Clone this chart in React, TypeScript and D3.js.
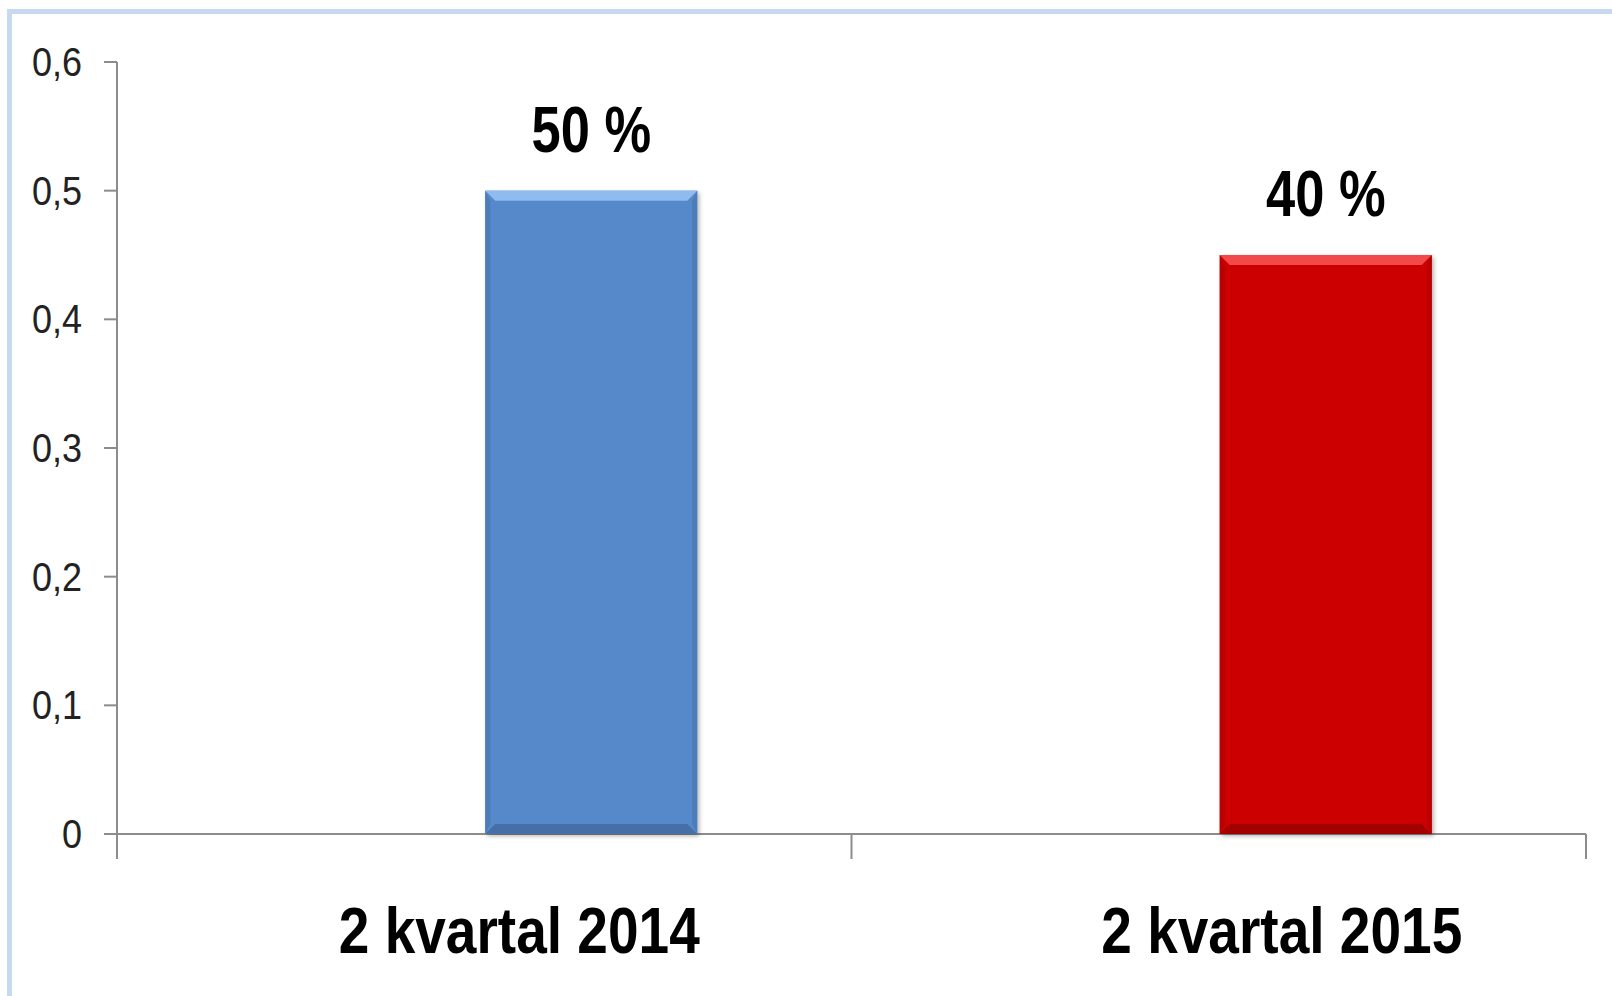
import { useRef, useEffect } from 'react'
import * as d3 from 'd3'

const categories = ['2 kvartal 2014', '2 kvartal 2015']
const values = [0.5, 0.45]
const valueLabels = ['50 %', '40 %']
const yTicks = [0, 0.1, 0.2, 0.3, 0.4, 0.5, 0.6]

const W = 1612
const H = 996
const FONT = '"Liberation Sans Narrow", "Arial Narrow", "Liberation Sans", sans-serif'

const BAR_STYLES = [
  { main: '#5689c9', light: '#8fbbee', dark: '#456fa6', edge: '#4d7cb8' },
  { main: '#cc0404', light: '#f24a4a', dark: '#a30000', edge: '#b80000' },
]
// Excel offsets: bars and labels sit right of the band centre
const barShift = 107
const labelShift = [35, 63]

export default function App() {
  const svgRef = useRef<SVGSVGElement>(null)

  useEffect(() => {
    const svg = d3.select(svgRef.current)
    svg.selectAll('*').remove()

    const pad = { l: 117, r: 26, t: 62, b: 162 }
    const x = d3.scaleBand().domain(categories).range([pad.l, W - pad.r]).padding(0)
    const y = d3.scaleLinear().domain([0, 0.6]).range([H - pad.b, pad.t])
    const bw = 212
    const bev = 10

    // narrow text: squeeze Liberation Sans horizontally
    const squeeze = (tx: number, ty: number, sx: number) => `translate(${tx},${ty}) scale(${sx},1)`

    // outer frame
    svg.append('rect')
      .attr('x', 9.5).attr('y', 11.5)
      .attr('width', W + 20).attr('height', H + 20)
      .attr('fill', '#fff')
      .attr('stroke', '#c6d9f1').attr('stroke-width', 5)

    // y axis
    svg.append('line')
      .attr('x1', pad.l).attr('x2', pad.l)
      .attr('y1', y(0.6)).attr('y2', y(0) + 25)
      .attr('stroke', '#8c8c8c').attr('stroke-width', 2)
    svg.selectAll('.ytick')
      .data(yTicks)
      .join('line')
      .attr('x1', pad.l - 13).attr('x2', pad.l)
      .attr('y1', d => y(d)).attr('y2', d => y(d))
      .attr('stroke', '#8c8c8c').attr('stroke-width', 2)
    svg.selectAll('.ylab')
      .data(yTicks)
      .join('text')
      .attr('transform', d => squeeze(82, y(d) + 14, 0.9))
      .attr('text-anchor', 'end')
      .attr('font-family', FONT)
      .attr('font-size', 40)
      .attr('fill', '#222')
      .text(d => d3.format('.1f')(d).replace('.', ',').replace(/^0,0$/, '0'))

    // x axis
    svg.append('line')
      .attr('x1', pad.l - 13).attr('x2', W - pad.r)
      .attr('y1', y(0)).attr('y2', y(0))
      .attr('stroke', '#8c8c8c').attr('stroke-width', 2)
    const xTicks = [...categories.map(c => x(c)!), W - pad.r]
    svg.selectAll('.xtick')
      .data(xTicks)
      .join('line')
      .attr('x1', d => d).attr('x2', d => d)
      .attr('y1', y(0)).attr('y2', y(0) + 25)
      .attr('stroke', '#8c8c8c').attr('stroke-width', 2)

    // bars with bevel
    const defs = svg.append('defs')
    const f = defs.append('filter').attr('id', 'sh').attr('x', '-10%').attr('y', '-10%').attr('width', '130%').attr('height', '130%')
    f.append('feDropShadow').attr('dx', 2).attr('dy', 2).attr('stdDeviation', 2).attr('flood-color', '#000').attr('flood-opacity', 0.3)

    categories.forEach((c, i) => {
      const cx = x(c)! + x.bandwidth() / 2 + barShift
      const x0 = cx - bw / 2
      const x1 = cx + bw / 2
      const y0 = y(values[i])
      const y1 = y(0)
      const s = BAR_STYLES[i]
      const g = svg.append('g')
      g.append('rect')
        .attr('x', x0).attr('y', y0).attr('width', bw).attr('height', y1 - y0)
        .attr('fill', s.main).attr('filter', 'url(#sh)')
      // top bevel
      g.append('polygon')
        .attr('points', [[x0, y0], [x1, y0], [x1 - bev, y0 + bev], [x0 + bev, y0 + bev]].join(' '))
        .attr('fill', s.light)
      // bottom bevel
      g.append('polygon')
        .attr('points', [[x0, y1], [x1, y1], [x1 - bev, y1 - bev], [x0 + bev, y1 - bev]].join(' '))
        .attr('fill', s.dark)
      // side bevels
      g.append('polygon')
        .attr('points', [[x0, y0], [x0 + bev / 2, y0 + bev], [x0 + bev / 2, y1 - bev], [x0, y1]].join(' '))
        .attr('fill', s.edge)
      g.append('polygon')
        .attr('points', [[x1, y0], [x1 - bev / 2, y0 + bev], [x1 - bev / 2, y1 - bev], [x1, y1]].join(' '))
        .attr('fill', s.edge)

      g.append('text')
        .attr('transform', squeeze(cx, y0 - 39, 0.82))
        .attr('text-anchor', 'middle')
        .attr('font-family', FONT)
        .attr('font-weight', 700)
        .attr('font-size', 64)
        .attr('fill', '#000')
        .text(valueLabels[i])

      svg.append('text')
        .attr('transform', squeeze(x(c)! + x.bandwidth() / 2 + labelShift[i], 953, 0.86))
        .attr('text-anchor', 'middle')
        .attr('font-family', FONT)
        .attr('font-weight', 700)
        .attr('font-size', 64)
        .attr('fill', '#000')
        .text(c)
    })
  }, [])

  return (
    <div style={{ position: 'fixed', left: 0, top: 0, width: W, height: H, background: '#fff' }}>
      <svg ref={svgRef} width={W} height={H} style={{ display: 'block' }} />
    </div>
  )
}
